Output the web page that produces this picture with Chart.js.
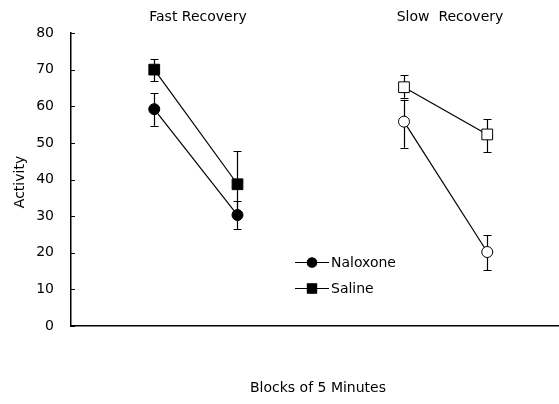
<!DOCTYPE html>
<html><head><meta charset="utf-8">
<script src="https://cdn.jsdelivr.net/npm/chart.js@4"></script>
<style>html,body{margin:0;padding:0;background:#fff}</style>
</head><body>
<canvas id="c" width="559" height="404"></canvas>
<script>
// ---- data ----
const fastBlocks = [1, 2];
const slowBlocks = [4, 5];
const groupTitles = ['Fast Recovery', 'Slow  Recovery'];
const seriesNames = ['Naloxone', 'Saline'];
const yTicks = [0, 10, 20, 30, 40, 50, 60, 70, 80];

const fastNaloxone = [59.2, 30.3];
const fastNaloxoneLow = [54.7, 26.5];
const fastNaloxoneHigh = [63.6, 34.0];

const fastSaline = [70.0, 38.7];
const fastSalineLow = [66.9, 30.0];
const fastSalineHigh = [72.8, 47.8];

const slowNaloxone = [55.8, 20.2];
const slowNaloxoneLow = [48.7, 15.2];
const slowNaloxoneHigh = [61.8, 24.8];

const slowSaline = [65.2, 52.3];
const slowSalineLow = [62.3, 47.5];
const slowSalineHigh = [68.5, 56.5];

const xTitle = 'Blocks of 5 Minutes';
const yTitle = 'Activity';

// ---- chart ----
Chart.defaults.font.family = 'DejaVu Sans';
Chart.defaults.font.size = 14;
Chart.defaults.color = '#000';

const pts = (xs, ys) => xs.map((x, i) => ({x, y: ys[i]}));

function ds(label, xs, ys, lo, hi, style, filled) {
  const r = style === 'rect' ? 7.6 : 5.5;
  return {
    label,
    data: pts(xs, ys),
    errLow: lo, errHigh: hi,
    borderColor: '#000', borderWidth: 1.2,
    pointStyle: style,
    pointRadius: r, pointHoverRadius: r,
    pointBackgroundColor: filled ? '#000' : '#fff',
    pointBorderColor: '#000', pointBorderWidth: 1,
    fill: false, tension: 0
  };
}

const errorBars = {
  id: 'errorBars',
  beforeDatasetsDraw(chart) {
    const ctx = chart.ctx, y = chart.scales.y;
    ctx.save();
    ctx.strokeStyle = '#000'; ctx.lineWidth = 1.2;
    chart.data.datasets.forEach((d, i) => {
      const meta = chart.getDatasetMeta(i);
      meta.data.forEach((p, j) => {
        const x = Math.round(p.x) + 0.5;
        const y1 = y.getPixelForValue(d.errLow[j]);
        const y2 = y.getPixelForValue(d.errHigh[j]);
        ctx.beginPath();
        ctx.moveTo(x, y1); ctx.lineTo(x, y2);
        ctx.moveTo(x - 4, Math.round(y1) + 0.5); ctx.lineTo(x + 4, Math.round(y1) + 0.5);
        ctx.moveTo(x - 4, Math.round(y2) + 0.5); ctx.lineTo(x + 4, Math.round(y2) + 0.5);
        ctx.stroke();
      });
    });
    ctx.restore();
  }
};

const decor = {
  id: 'decor',
  afterDraw(chart) {
    const ctx = chart.ctx, y = chart.scales.y, a = chart.chartArea;
    ctx.save();
    // inside tick marks
    ctx.strokeStyle = '#000'; ctx.lineWidth = 1;
    yTicks.forEach(v => {
      const py = Math.round(y.getPixelForValue(v)) + 0.5;
      ctx.beginPath(); ctx.moveTo(a.left, py); ctx.lineTo(a.left + 4, py); ctx.stroke();
    });
    ctx.fillStyle = '#000';
    ctx.textAlign = 'center'; ctx.textBaseline = 'middle';
    ctx.font = '14px "DejaVu Sans"';
    ctx.fillText(groupTitles[0], 198, 17);
    ctx.fillText(groupTitles[1], 450, 17);
    ctx.fillText(xTitle, 318, 388);
    ctx.save();
    ctx.translate(20, 182); ctx.rotate(-Math.PI / 2);
    ctx.fillText(yTitle, 0, 0);
    ctx.restore();
    // legend
    const rows = [262, 288];
    ctx.textAlign = 'left';
    ctx.lineWidth = 1.2;
    [0, 1].forEach(i => {
      const d = chart.data.datasets[i];
      const ly = rows[i] + 0.5;
      ctx.beginPath(); ctx.moveTo(295, ly); ctx.lineTo(329, ly); ctx.stroke();
      Chart.helpers.drawPoint(ctx, {pointStyle: d.pointStyle, radius: d.pointStyle === 'rect' ? 6.5 : 4.7, borderWidth: 1}, 312, ly);
      ctx.fillStyle = '#000';
      ctx.fill();
      ctx.fillText(seriesNames[i], 331, rows[i] + 1);
    });
    ctx.restore();
  }
};

new Chart(document.getElementById('c'), {
  type: 'line',
  data: {
    datasets: [
      ds(seriesNames[0], fastBlocks, fastNaloxone, fastNaloxoneLow, fastNaloxoneHigh, 'circle', true),
      ds(seriesNames[1], fastBlocks, fastSaline, fastSalineLow, fastSalineHigh, 'rect', true),
      ds(seriesNames[0], slowBlocks, slowNaloxone, slowNaloxoneLow, slowNaloxoneHigh, 'circle', false),
      ds(seriesNames[1], slowBlocks, slowSaline, slowSalineLow, slowSalineHigh, 'rect', false)
    ]
  },
  options: {
    responsive: false,
    animation: false,
    events: [],
    layout: {autoPadding: false, padding: {top: 33, right: 1, left: 0, bottom: 0}},
    plugins: {legend: {display: false}, tooltip: {enabled: false}, title: {display: false}},
    scales: {
      x: {
        type: 'linear', min: 0, max: 5.85,
        ticks: {display: false},
        grid: {display: false, drawTicks: false},
        border: {display: true, color: '#000', width: 1.5},
        afterFit(s) { s.height = 78; }
      },
      y: {
        min: 0, max: 80,
        afterBuildTicks(s) { s.ticks = yTicks.map(v => ({value: v})); },
        ticks: {padding: 17, font: {size: 14}},
        grid: {display: false, drawTicks: false},
        border: {display: true, color: '#000', width: 1.5},
        afterFit(s) { s.width = 71; }
      }
    }
  },
  plugins: [errorBars, decor]
});
</script>
</body></html>
